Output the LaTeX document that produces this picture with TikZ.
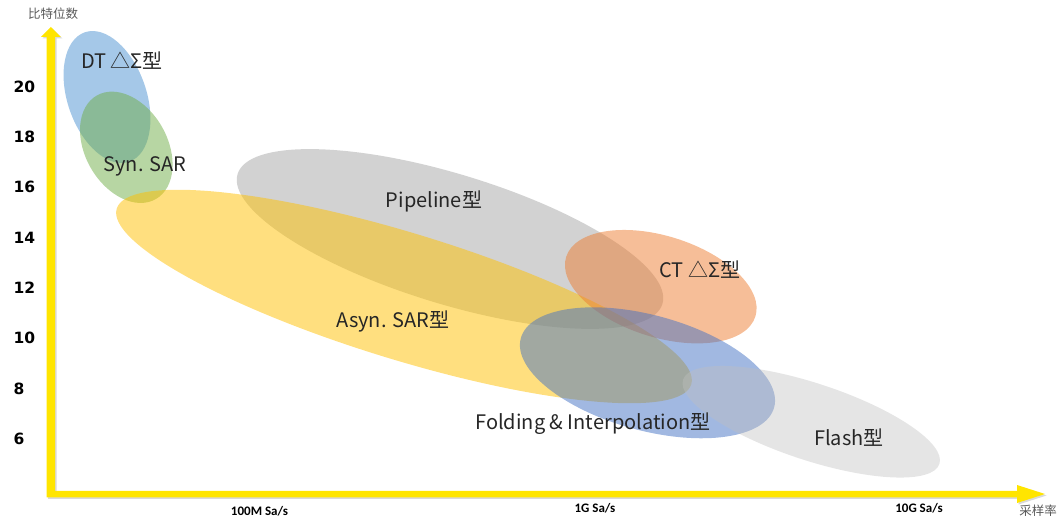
\documentclass[tikz,border=0pt]{standalone}
\usepackage{fontspec}
\setmainfont{Noto Sans CJK SC}
\newfontfamily\bitfont{DejaVu Sans}
\newfontfamily\ratefont{Carlito}
\usetikzlibrary{shadows}

\definecolor{axisyellow}{HTML}{FFE500}
\definecolor{dtblue}{HTML}{5B9BD5}
\definecolor{syngreen}{HTML}{70AD47}
\definecolor{pipegray}{HTML}{A5A5A5}
\definecolor{asynyellow}{HTML}{FFC000}
\definecolor{ctorange}{HTML}{ED7D31}
\definecolor{foldblue}{HTML}{4472C4}
\definecolor{flashgray}{HTML}{BFBFBF}

\begin{document}
\begin{tikzpicture}[x=1pt, y=-1pt,
		blob/.style = {fill opacity=0.5},
		kind/.style = {font=\fontsize{20}{24}\selectfont, text=black!85, anchor=base},
		bitlabel/.style = {font=\bitfont\bfseries\fontsize{15.5}{18}\selectfont, anchor=base west},
		ratelabel/.style = {font=\ratefont\bfseries\fontsize{13}{15}\selectfont},
		axistitle/.style = {font=\fontsize{12.5}{15}\selectfont, text=black!65}
	]
	\useasboundingbox (0,0) rectangle (1062,526);

	\coordinate (dt) at (107,97);
	\coordinate (syn) at (126.3,147.3);
	\coordinate (pipe) at (450,239);
	\coordinate (asyn) at (404,296.5);
	\coordinate (ct) at (660.8,286.7);
	\coordinate (fold) at (647.5,372.8);
	\coordinate (flash) at (811.3,421.8);

	% regions, back to front
	\begin{scope}[blob]
		\fill [dtblue, fill opacity=0.55, rotate around={-71.1:(dt)}] (dt) ellipse [x radius=68.4, y radius=39.5];
		\fill [syngreen, rotate around={-60.4:(syn)}] (syn) ellipse [x radius=59.6, y radius=41.1];
		\fill [pipegray, rotate around={-17:(pipe)}] (pipe) ellipse [x radius=222.1, y radius=65];
		\fill [asynyellow, rotate around={-17:(asyn)}] (asyn) ellipse [x radius=300.4, y radius=63.4];
		\fill [ctorange, rotate around={-17.45:(ct)}] (ct) ellipse [x radius=99.2, y radius=50.6];
		\fill [foldblue, rotate around={-15.3:(fold)}] (fold) ellipse [x radius=131.3, y radius=57.6];
		\fill [flashgray, fill opacity=0.4, rotate around={-18.2:(flash)}] (flash) ellipse [x radius=134.9, y radius=38.5];
	\end{scope}

	% axes
	\fill [axisyellow, drop shadow={shadow xshift=1.5pt, shadow yshift=-1.5pt, opacity=0.3}]
		(46.5,497.25) -- (46.5,37) -- (41,37) -- (50.75,27) -- (61,37) -- (55,37) -- (55,490.75)
		-- (1017,490.75) -- (1017,485) -- (1045,494) -- (1017,503) -- (1017,497.25) -- cycle;

	\node [axistitle] (bits) at (53,13.5) {比特位数};
	\node [axistitle] (rate) at (1038,511) {采样率};

	\foreach \v in {20,18,...,6}
		\node [bitlabel] (bit\v) at (10,{92.3+(20-\v)*25.15}) {\v};

	\node [ratelabel] (r100m) at (259.5,511) {100M Sa/s};
	\node [ratelabel] (r1g) at (595,508) {1G Sa/s};
	\node [ratelabel] (r10g) at (919,508) {10G Sa/s};

	% names
	\node [kind] (dtname) at (122,68.3) {DT △Σ型};
	\node [kind] (synname) at (145,171.7) {Syn. SAR};
	\node [kind] (pipename) at (434,208) {Pipeline型};
	\node [kind] (asynname) at (393,327.7) {Asyn. SAR型};
	\node [kind] (ctname) at (700,278) {CT △Σ型};
	\node [kind] (foldname) at (593,429) {Folding \& Interpolation型};
	\node [kind] (flashname) at (849,445) {Flash型};
\end{tikzpicture}
\end{document}
